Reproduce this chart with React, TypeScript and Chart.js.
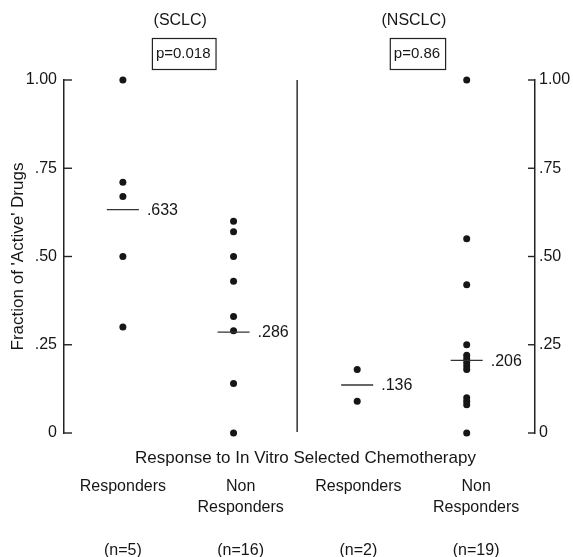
import React, { useEffect, useRef } from "react";
import { Chart, registerables } from "chart.js";

Chart.register(...registerables);

// ---- data ----
const groupNames = ["SCLC Responders", "SCLC Non Responders", "NSCLC Responders", "NSCLC Non Responders"];
const categoryLines: string[][] = [["Responders"], ["Non", "Responders"], ["Responders"], ["Non", "Responders"]];
const nCounts = [5, 16, 2, 19];
const sclcResponders = [1.0, 0.71, 0.67, 0.5, 0.3];
const sclcNonResponders = [0.6, 0.57, 0.5, 0.43, 0.33, 0.29, 0.14, 0.0];
const nsclcResponders = [0.18, 0.09];
const nsclcNonResponders = [1.0, 0.55, 0.42, 0.25, 0.22, 0.21, 0.2, 0.19, 0.18, 0.1, 0.09, 0.08, 0.0];
const groupMeans = [0.633, 0.286, 0.136, 0.206];
const yTickValues = [0, 0.25, 0.5, 0.75, 1];
const panelNames = ["(SCLC)", "(NSCLC)"];
const pValues = ["p=0.018", "p=0.86"];
const yTitle = "Fraction of 'Active' Drugs";
const xTitle = "Response to In Vitro Selected Chemotherapy";

// ---- layout constants (positions on the linear x scale) ----
const groupPositions = [0, 0.94, 1.99, 2.92];
const dividerPos = 1.48;

const FONT = '"Liberation Sans", Arial, Helvetica, sans-serif';
const INK = "#161616";

const groups = [sclcResponders, sclcNonResponders, nsclcResponders, nsclcNonResponders];

const fmtMean = (v: number) => "." + v.toFixed(3).split(".")[1];
const fmtTick = (v: number) => (v === 0 ? "0" : v === 1 ? "1.00" : "." + v.toFixed(2).split(".")[1]);

const xTickLabels = categoryLines.map((lines, i) => {
  const out = [...lines];
  while (out.length < 3) out.push("");
  out.push(`(n=${nCounts[i]})`);
  return out;
});

const annotatePlugin = {
  id: "annotate",
  afterDraw(chart: any) {
    const { ctx, chartArea, scales } = chart;
    const xs = scales.x;
    const ys = scales.y;
    const y2 = scales.y2;
    const line = (x1: number, y1: number, x2: number, y2_: number) => {
      ctx.beginPath();
      ctx.moveTo(x1, y1);
      ctx.lineTo(x2, y2_);
      ctx.stroke();
    };
    ctx.save();
    ctx.strokeStyle = "#222";
    ctx.lineWidth = 1.4;
    // inward tick marks
    for (const t of ys.ticks) {
      const py = ys.getPixelForValue(t.value);
      line(chartArea.left, py, chartArea.left + 8, py);
    }
    for (const t of y2.ticks) {
      const py = y2.getPixelForValue(t.value);
      line(chartArea.right - 7, py, chartArea.right, py);
    }
    // divider
    const dx = xs.getPixelForValue(dividerPos);
    line(dx, chartArea.top, dx, chartArea.bottom - 1);

    // mean lines + labels
    ctx.fillStyle = INK;
    ctx.font = `16px ${FONT}`;
    ctx.textAlign = "left";
    ctx.textBaseline = "middle";
    ctx.lineWidth = 1.3;
    ctx.strokeStyle = "#333";
    groupMeans.forEach((m, i) => {
      const px = xs.getPixelForValue(groupPositions[i]);
      const py = ys.getPixelForValue(m);
      line(px - 16, py, px + 16, py);
      ctx.fillText(fmtMean(m), px + 24, py + 1);
    });

    // x title (between axis and category labels)
    ctx.font = `17px ${FONT}`;
    ctx.textAlign = "center";
    ctx.fillText(xTitle, (chartArea.left + chartArea.right) / 2 + 6, 458);

    // panel headers and p-value boxes
    const centers = [
      xs.getPixelForValue((groupPositions[0] + groupPositions[1]) / 2),
      xs.getPixelForValue((groupPositions[2] + groupPositions[3]) / 2),
    ];
    centers.forEach((cx, i) => {
      ctx.font = `16px ${FONT}`;
      ctx.textAlign = "center";
      ctx.fillText(panelNames[i], cx + 2, 21);
      ctx.font = `15px ${FONT}`;
      const w = ctx.measureText(pValues[i]).width;
      const tx = cx + 5;
      ctx.fillText(pValues[i], tx, 54);
      ctx.lineWidth = 1.2;
      ctx.strokeStyle = "#222";
      ctx.strokeRect(tx - w / 2 - 3.5, 38.5, w + 9, 31);
    });
    ctx.restore();
  },
};

export default function App() {
  const ref = useRef<HTMLCanvasElement | null>(null);
  useEffect(() => {
    if (!ref.current) return;
    const chart = new Chart(ref.current, {
      type: "scatter",
      data: {
        datasets: groups.map((vals, i) => ({
          label: groupNames[i],
          data: vals.map((v) => ({ x: groupPositions[i], y: v })),
          pointRadius: 3.5,
          pointHoverRadius: 3.5,
          backgroundColor: INK,
          borderWidth: 0,
          clip: false,
          yAxisID: "y",
        })),
      },
      options: {
        responsive: false,
        animation: false,
        events: [],
        layout: { padding: { top: 80, left: 0, right: 0, bottom: 0 } },
        plugins: { legend: { display: false }, tooltip: { enabled: false } },
        scales: {
          x: {
            type: "linear",
            min: -0.5,
            max: 3.5,
            grid: { display: false, drawTicks: false },
            border: { display: false },
            afterBuildTicks: (s: any) => {
              s.ticks = xTickLabels.map((_, i) => ({ value: i }));
            },
            afterFit: (s: any) => {
              s.height = 124;
            },
            ticks: {
              autoSkip: false,
              maxRotation: 0,
              minRotation: 0,
              padding: 43,
              color: INK,
              font: { family: FONT, size: 16, lineHeight: 1.33 },
              callback: (v: any) => xTickLabels[Math.round(Number(v))] ?? "",
            },
          },
          y: {
            position: "left",
            min: 0,
            max: 1,
            afterBuildTicks: (s: any) => {
              s.ticks = yTickValues.map((v) => ({ value: v }));
            },
            afterFit: (s: any) => {
              s.width = 64;
            },
            grid: { drawOnChartArea: false, drawTicks: false },
            border: { display: true, color: "#222", width: 1.5 },
            ticks: {
              padding: 7,
              color: INK,
              font: { family: FONT, size: 16 },
              callback: (v: any) => fmtTick(Number(v)),
            },
            title: {
              display: true,
              text: yTitle,
              color: INK,
              font: { family: FONT, size: 17 },
              padding: { top: 8, bottom: 0 },
            },
          },
          y2: {
            position: "right",
            min: 0,
            max: 1,
            afterBuildTicks: (s: any) => {
              s.ticks = yTickValues.map((v) => ({ value: v }));
            },
            afterFit: (s: any) => {
              s.width = 38;
            },
            grid: { drawOnChartArea: false, drawTicks: false },
            border: { display: true, color: "#222", width: 1.5 },
            ticks: {
              padding: 4,
              color: INK,
              font: { family: FONT, size: 16 },
              callback: (v: any) => fmtTick(Number(v)),
            },
          },
        },
      },
      plugins: [annotatePlugin],
    } as any);
    return () => chart.destroy();
  }, []);

  return (
    <div style={{ position: "fixed", left: 0, top: 0, width: 573, height: 557, background: "#fff" }}>
      <canvas ref={ref} width={573} height={557} />
    </div>
  );
}
